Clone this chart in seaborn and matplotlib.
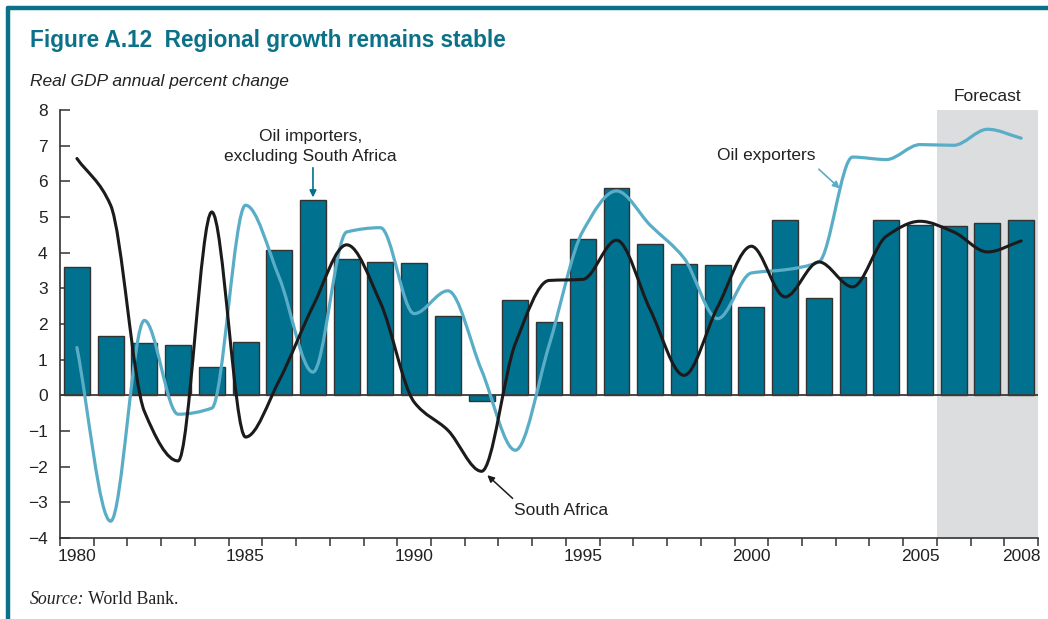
import numpy as np
import matplotlib
matplotlib.use("Agg")
import matplotlib.pyplot as plt
from matplotlib.path import Path
from matplotlib.patches import PathPatch
from matplotlib.lines import Line2D
import pandas as pd
import seaborn as sns

# ==============================
# Data
# ==============================
years = list(range(1980, 2009))
oil_importers = [3.6, 1.65, 1.47, 1.42, 0.78, 1.5, 4.07, 5.48, 3.82, 3.73, 3.71,
                 2.21, -0.15, 2.66, 2.05, 4.39, 5.82, 4.23, 3.67, 3.65, 2.49,
                 4.91, 2.72, 3.31, 4.91, 4.77, 4.76, 4.83, 4.91]
south_africa = [6.64, 5.33, -0.45, -1.84, 5.14, -1.17, 0.42, 2.5, 4.22, 2.6,
                -0.19, -0.98, -2.13, 1.45, 3.22, 3.25, 4.35, 2.4, 0.56, 2.48,
                4.18, 2.76, 3.74, 3.04, 4.46, 4.88, 4.58, 4.02, 4.33]
oil_exporters = [1.34, -3.53, 2.1, -0.53, -0.36, 5.33, 3.3, 0.65, 4.58, 4.7,
                 2.29, 2.93, 0.7, -1.54, 1.4, 4.6, 5.73, 4.77, 3.85, 2.15,
                 3.43, 3.52, 3.74, 6.68, 6.61, 7.03, 7.01, 7.46, 7.21]
label_years = [1980, 1985, 1990, 1995, 2000, 2005, 2008]
forecast_start = 2005.5

TEAL = "#00718f"
FRAME = "#0b7189"
LIGHT = "#5aadc7"
DARK = "#1c1a1b"
SHADE = "#dcdddf"

df = pd.DataFrame({"year": years, "importers": oil_importers})


def smooth_line(ax, x, y, color, lw):
    # monotone cubic (PCHIP-style tangents) through the annual points,
    # drawn as bezier segments so the curve never overshoots a data point
    x = np.asarray(x, float)
    y = np.asarray(y, float)
    n = len(x)
    h = np.diff(x)
    d = np.diff(y) / h
    m = np.zeros(n)
    m[0], m[-1] = d[0], d[-1]
    for k in range(1, n - 1):
        if d[k - 1] * d[k] > 0:
            m[k] = 2.0 / (1.0 / d[k - 1] + 1.0 / d[k])
    verts = [(x[0], y[0])]
    codes = [Path.MOVETO]
    for i in range(n - 1):
        verts += [(x[i] + h[i] / 3, y[i] + m[i] * h[i] / 3),
                  (x[i + 1] - h[i] / 3, y[i + 1] - m[i + 1] * h[i] / 3),
                  (x[i + 1], y[i + 1])]
        codes += [Path.CURVE4] * 3
    patch = PathPatch(Path(verts, codes), facecolor="none", edgecolor=color,
                      lw=lw, capstyle="round", joinstyle="round", zorder=4)
    ax.add_patch(patch)


# ==============================
# Figure
# ==============================
sns.set_style("ticks")
plt.rcParams["font.family"] = ["Liberation Sans", "DejaVu Sans"]

fig = plt.figure(figsize=(10.48, 6.19), dpi=100)
ax = fig.add_axes([0.0573, 0.1309, 0.9332, 0.6914])

ax.axvspan(forecast_start, 2008.5, color=SHADE, zorder=0, lw=0)

sns.barplot(data=df, x="year", y="importers", native_scale=True, width=0.77,
            color=TEAL, saturation=1, edgecolor="#333333", linewidth=1.0,
            errorbar=None, ax=ax, zorder=2)

ax.axhline(0, color="#3a3a3a", lw=1.3, zorder=3)

smooth_line(ax, years, oil_exporters, LIGHT, 2.3)
smooth_line(ax, years, south_africa, DARK, 2.2)

ax.set_xlim(1979.5, 2008.5)
ax.set_ylim(-4, 8)
ax.set_xlabel("")
ax.set_ylabel("")

ax.set_yticks(range(-4, 9))
ax.set_xticks(label_years)
ax.set_xticklabels([str(y) for y in label_years])
ax.set_xticks(np.arange(1979.5, 2009, 1.0), minor=True)
ax.tick_params(axis="x", which="major", length=0, pad=8, labelsize=12.5,
               colors="#222222")
ax.tick_params(axis="x", which="minor", length=6, width=1.1, direction="out",
               color="#333333")
ax.tick_params(axis="y", length=7, width=1.1, direction="in", pad=9,
               labelsize=12.5, colors="#333333", labelcolor="#222222")

for s in ["top", "right"]:
    ax.spines[s].set_visible(False)
ax.spines["left"].set_bounds(-4, 8)
for s in ["left", "bottom"]:
    ax.spines[s].set_color("#333333")
    ax.spines[s].set_linewidth(1.2)

# annotations
ax.text(1986.92, 6.98, "Oil importers,\nexcluding South Africa", ha="center",
        va="center", fontsize=12.5, color="#222222", linespacing=1.45)
ax.annotate("", xy=(1987, 5.55), xytext=(1987, 6.38),
            arrowprops=dict(arrowstyle="-|>", color=TEAL, lw=1.2,
                            mutation_scale=10, shrinkA=0, shrinkB=0))
ax.text(2000.43, 6.73, "Oil exporters", ha="center", va="center",
        fontsize=12.5, color="#222222")
ax.annotate("", xy=(2002.62, 5.8), xytext=(2002.0, 6.34),
            arrowprops=dict(arrowstyle="-|>", color=LIGHT, lw=1.2,
                            mutation_scale=10, shrinkA=0, shrinkB=0))
ax.text(1992.97, -3.22, "South Africa", ha="left", va="center",
        fontsize=12.5, color="#222222")
ax.annotate("", xy=(1992.17, -2.24), xytext=(1992.92, -2.89),
            arrowprops=dict(arrowstyle="-|>", color=DARK, lw=1.1,
                            mutation_scale=10, shrinkA=0, shrinkB=0))
ax.text((forecast_start + 2008.5) / 2, 8.38, "Forecast", ha="center",
        va="center", fontsize=12.5, color="#222222", clip_on=False)

# titles and frame
fig.text(0.0286, 0.935, "Figure A.12  Regional growth remains stable",
         fontsize=16.3, fontweight="bold", color=FRAME, va="center")
fig.text(0.0286, 0.869, "Real GDP annual percent change", fontsize=12.5,
         style="italic", color="#222222", va="center")
src = fig.text(0.0286, 0.0307, "Source:", fontsize=12.8, style="italic",
               family="Liberation Serif", color="#222222", va="center")
fig.canvas.draw()
ax.annotate(" World Bank.", xy=(1, 0), xycoords=src, va="bottom", ha="left",
            fontsize=12.8, family="Liberation Serif", color="#222222",
            annotation_clip=False)

fig.add_artist(Line2D([8 / 1048, 1.0], [1 - 8 / 619, 1 - 8 / 619],
                      transform=fig.transFigure, color=FRAME, lw=3.2))
fig.add_artist(Line2D([8 / 1048, 8 / 1048], [0.0, 1 - 8 / 619],
                      transform=fig.transFigure, color=FRAME, lw=3.2))

fig.savefig("out.png", dpi=100)
